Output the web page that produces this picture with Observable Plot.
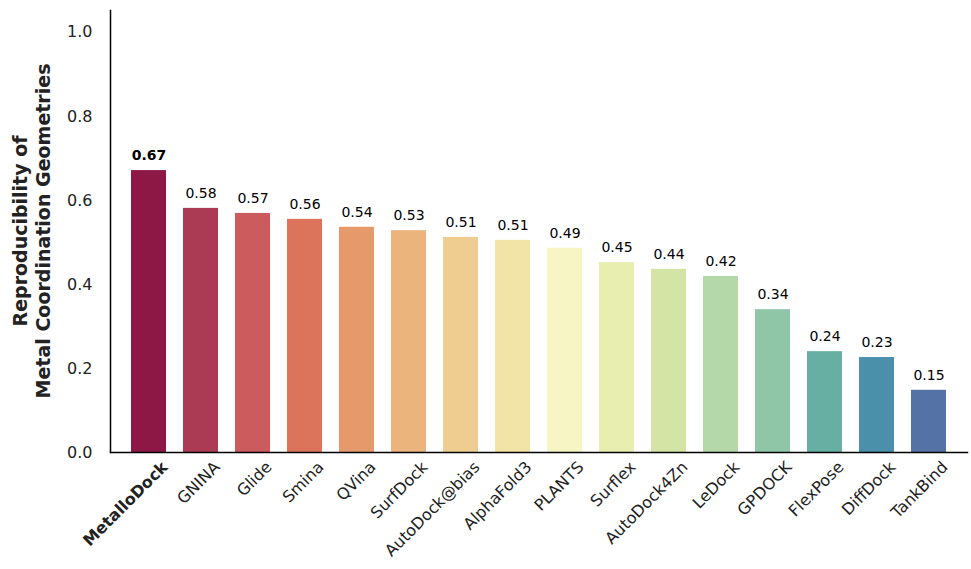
<!DOCTYPE html>
<html><head><meta charset="utf-8">
<script src="https://cdn.jsdelivr.net/npm/d3@7"></script>
<script src="https://cdn.jsdelivr.net/npm/@observablehq/plot@0.6"></script>
<style>body{margin:0;background:#fff;font-family:"DejaVu Sans",sans-serif}</style>
</head><body><div id="c"></div>
<script>
const methods = ["MetalloDock","GNINA","Glide","Smina","QVina","SurfDock","AutoDock@bias","AlphaFold3","PLANTS","Surflex","AutoDock4Zn","LeDock","GPDOCK","FlexPose","DiffDock","TankBind"];
const values = [0.671,0.581,0.569,0.555,0.536,0.528,0.512,0.505,0.486,0.452,0.436,0.419,0.340,0.240,0.226,0.148];
const labels = ["0.67","0.58","0.57","0.56","0.54","0.53","0.51","0.51","0.49","0.45","0.44","0.42","0.34","0.24","0.23","0.15"];
const colors = ["#8d1845","#ab3a54","#cb5b5c","#dc745c","#e69a6b","#ebb47d","#efcd90","#f2e3a6","#f7f5c4","#e8eeb0","#d4e4a4","#b5d8a8","#8fc6a7","#67aea3","#4b90aa","#5572a7"];
const data = methods.map((m,i)=>({m, v:values[i], c:colors[i], l:labels[i]}));
const chart = Plot.plot({
  width: 971, height: 569,
  marginLeft: 110, marginRight: 4, marginTop: 10, marginBottom: 117,
  style: {fontFamily: "DejaVu Sans", fontSize: "16px", color: "#222"},
  x: {domain: methods, padding: 0.33, label: null},
  y: {domain: [0, 1.052], label: null},
  marks: [
    Plot.barY(data, {x: "m", y: "v", fill: "c"}),
    Plot.text(data.slice(1), {x: "m", y: "v", text: "l", dy: -15, fontSize: 14, fill: "black"}),
    Plot.text(data.slice(0,1), {x: "m", y: "v", text: "l", dy: -15, fontSize: 14, fill: "black", fontWeight: "bold"}),
    Plot.axisY({ticks: [0,0.2,0.4,0.6,0.8,1.0], tickFormat: d3.format(".1f"), tickSize: 0, tickPadding: 18, fontSize: 16, label: null}),
    Plot.axisX({tickRotate: -45, tickSize: 0, tickPadding: 12, dx: 16, fontSize: 16, label: null}),
    Plot.frame({anchor: "left", stroke: "black", strokeWidth: 1.5}),
    Plot.frame({anchor: "bottom", stroke: "black", strokeWidth: 1.5})
  ]
});
const svg = d3.select(chart);
svg.selectAll("text").filter(function(){return this.textContent==="MetalloDock";}).attr("font-weight","bold");
const g = svg.append("g").attr("transform","translate(27,231) rotate(-90)").attr("text-anchor","middle").attr("font-weight","bold").attr("font-size",19).attr("fill","#222");
g.append("text").attr("y",0).text("Reproducibility of");
g.append("text").attr("y",23).text("Metal Coordination Geometries");
document.getElementById("c").appendChild(chart);
</script></body></html>
